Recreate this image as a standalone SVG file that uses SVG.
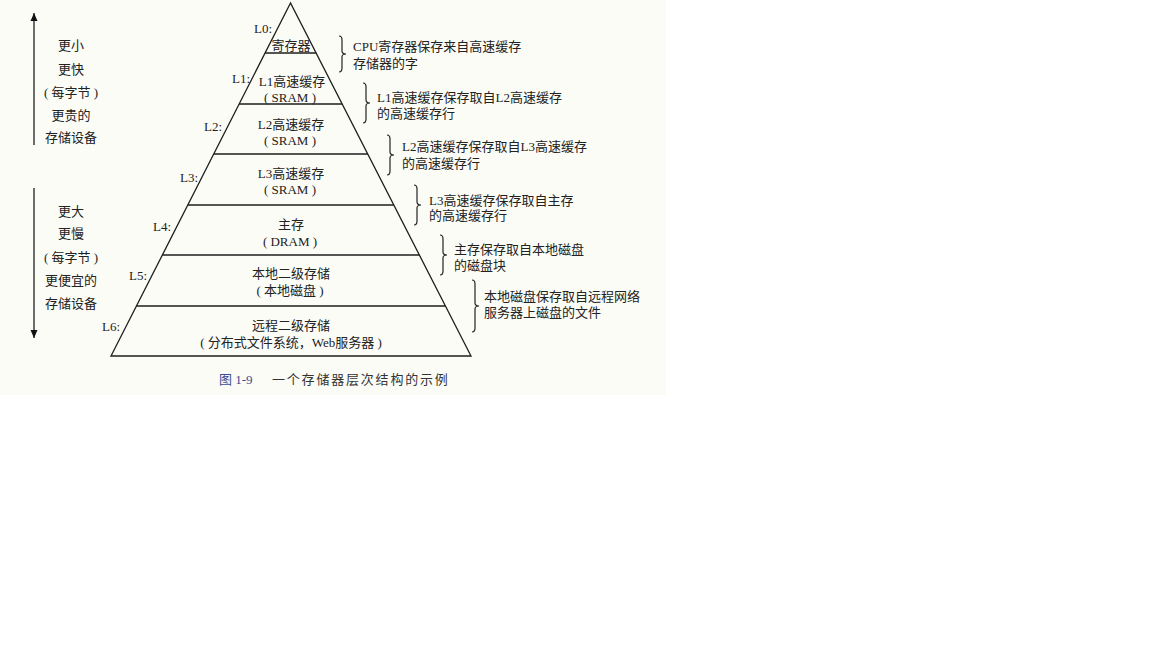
<svg xmlns="http://www.w3.org/2000/svg" width="1152" height="648" viewBox="0 0 1152 648">
<defs>
<style>
.t{font-family:"Liberation Serif","Noto Sans CJK SC",serif;font-size:13px;fill:#222}
.m{text-anchor:middle}
.e{text-anchor:end}
.ln{stroke:#1e1e1e;stroke-width:1.3;fill:none}
.br{stroke:#222;stroke-width:1.2;fill:none}
.cap{font-family:"Liberation Serif","Noto Sans CJK SC",serif;font-size:13px;fill:#333}
</style>
<marker id="ah" viewBox="0 0 8 16" refX="8" refY="8" markerWidth="8" markerHeight="16" markerUnits="userSpaceOnUse" orient="auto">
<path d="M0,4.5 L16,8 L0,11.5 Z" fill="#111" transform="scale(0.5,1)"/>
</marker>
</defs>
<rect x="0" y="0" width="666" height="395" fill="#fcfcf6"/>
<g id="connectors">
<line class="ln" x1="34" y1="145" x2="34" y2="13" marker-end="url(#ah)"/>
<line class="ln" x1="34" y1="188" x2="34" y2="338" marker-end="url(#ah)"/>
</g>
<g id="left-top">
<text class="t m" x="71" y="50">更小</text>
<text class="t m" x="71" y="74">更快</text>
<text class="t m" x="71" y="97" xml:space="preserve">( 每字节 )</text>
<text class="t m" x="71" y="120">更贵的</text>
<text class="t m" x="71" y="142">存储设备</text>
</g>
<g id="left-bottom">
<text class="t m" x="71" y="216">更大</text>
<text class="t m" x="71" y="238">更慢</text>
<text class="t m" x="71" y="262" xml:space="preserve">( 每字节 )</text>
<text class="t m" x="71" y="285">更便宜的</text>
<text class="t m" x="71" y="308">存储设备</text>
</g>
<g id="pyramid">
<polygon class="ln" points="290.5,3 111,356 471,356"/>
</g>
<g id="L0">
<line class="ln" x1="265.1" y1="53" x2="316.1" y2="53"/>
<text class="t e" x="272" y="33">L0:</text>
<text class="t m" x="291" y="50">寄存器</text>
</g>
<g id="L1">
<line class="ln" x1="239.1" y1="104" x2="342.1" y2="104"/>
<text class="t e" x="250" y="83">L1:</text>
<text class="t m" x="292" y="86">L1高速缓存</text>
<text class="t m" x="290" y="102" xml:space="preserve">( SRAM )</text>
</g>
<g id="L2">
<line class="ln" x1="213.7" y1="154" x2="367.7" y2="154"/>
<text class="t e" x="222" y="131">L2:</text>
<text class="t m" x="291" y="128.5">L2高速缓存</text>
<text class="t m" x="290" y="145" xml:space="preserve">( SRAM )</text>
</g>
<g id="L3">
<line class="ln" x1="187.8" y1="205" x2="393.8" y2="205"/>
<text class="t e" x="198" y="182">L3:</text>
<text class="t m" x="291" y="178">L3高速缓存</text>
<text class="t m" x="290" y="194" xml:space="preserve">( SRAM )</text>
</g>
<g id="L4">
<line class="ln" x1="162.4" y1="255" x2="419.4" y2="255"/>
<text class="t e" x="171" y="231">L4:</text>
<text class="t m" x="291" y="229">主存</text>
<text class="t m" x="290" y="246" xml:space="preserve">( DRAM )</text>
</g>
<g id="L5">
<line class="ln" x1="136.4" y1="306" x2="445.4" y2="306"/>
<text class="t e" x="147" y="280">L5:</text>
<text class="t m" x="291" y="278">本地二级存储</text>
<text class="t m" x="290" y="295" xml:space="preserve">( 本地磁盘 )</text>
</g>
<g id="L6">
<text class="t e" x="120" y="331">L6:</text>
<text class="t m" x="291" y="330">远程二级存储</text>
<text class="t m" x="291" y="347" xml:space="preserve">( 分布式文件系统，Web服务器 )</text>
</g>
<g id="note0">
<path class="br" d="M339,36 Q342,36 342,40 L342,51 Q342,54 346,54 Q342,54 342,57 L342,68 Q342,72 339,72"/>
<text class="t" x="353" y="51">CPU寄存器保存来自高速缓存</text>
<text class="t" x="353" y="67.5">存储器的字</text>
</g>
<g id="note1">
<path class="br" d="M363,83 Q366,83 366,87 L366,100 Q366,103 370,103 Q366,103 366,106 L366,119 Q366,123 363,123"/>
<text class="t" x="377" y="101.5">L1高速缓存保存取自L2高速缓存</text>
<text class="t" x="377" y="117.5">的高速缓存行</text>
</g>
<g id="note2">
<path class="br" d="M387,135 Q390,135 390,139 L390,152 Q390,155 394,155 Q390,155 390,158 L390,171 Q390,175 387,175"/>
<text class="t" x="402" y="151">L2高速缓存保存取自L3高速缓存</text>
<text class="t" x="402" y="167.5">的高速缓存行</text>
</g>
<g id="note3">
<path class="br" d="M414,185 Q417,185 417,189 L417,202 Q417,205 421,205 Q417,205 417,208 L417,221 Q417,225 414,225"/>
<text class="t" x="429" y="204.5">L3高速缓存保存取自主存</text>
<text class="t" x="429" y="219.5">的高速缓存行</text>
</g>
<g id="note4">
<path class="br" d="M440,235 Q443,235 443,239 L443,252 Q443,255 447,255 Q443,255 443,258 L443,271 Q443,275 440,275"/>
<text class="t" x="454" y="254">主存保存取自本地磁盘</text>
<text class="t" x="454" y="270">的磁盘块</text>
</g>
<g id="note5">
<path class="br" d="M472,280 Q475,280 475,284 L475,303 Q475,306 479,306 Q475,306 475,309 L475,328 Q475,332 472,332"/>
<text class="t" x="484" y="301">本地磁盘保存取自远程网络</text>
<text class="t" x="484" y="317">服务器上磁盘的文件</text>
</g>
<g id="caption">
<text class="cap" x="219" y="384"><tspan fill="#3a4c94">图 1-9</tspan><tspan x="272" letter-spacing="1.8">一个存储器层次结构的示例</tspan></text>
</g>
</svg>
